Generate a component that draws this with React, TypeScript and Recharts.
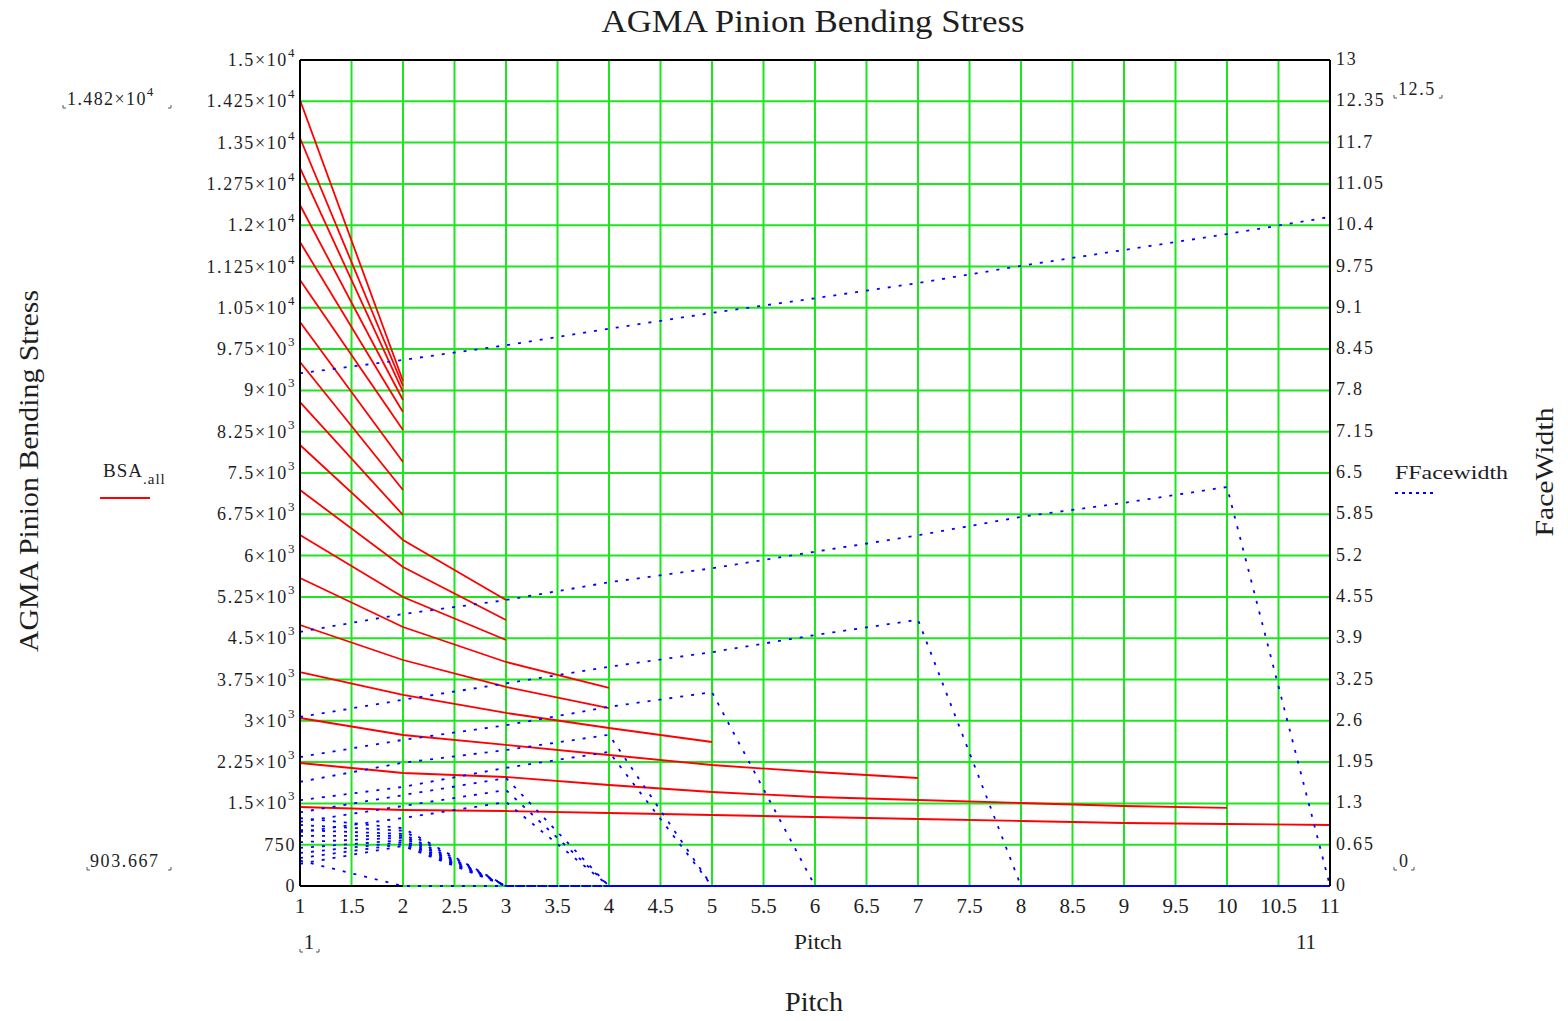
import type { ReactElement } from "react";
import {
  ComposedChart,
  Line,
  XAxis,
  YAxis,
  CartesianGrid,
  ReferenceLine,
} from "recharts";

const pitch = [1, 2, 3, 4, 5, 6, 7, 8, 9, 10, 11];

// BSA.all - bending stress at pitch 1, 2, 3 ... (each row stops at its last pitch)
const bsaAll: number[][] = [
  [14274, 9171],
  [13584, 9080],
  [13039, 8971],
  [12367, 8826],
  [11695, 8608],
  [11005, 8281],
  [10242, 7700],
  [9516, 7191],
  [8789, 6737],
  [8009, 6283, 5194],
  [7191, 5793, 4830],
  [6374, 5248, 4467],
  [5593, 4703, 4068, 3596],
  [4740, 4104, 3614, 3232],
  [3886, 3469, 3142, 2869, 2615],
  [3051, 2742, 2561, 2379, 2197, 2070, 1961],
  [2234, 2052, 1979, 1834, 1707, 1616, 1562, 1507, 1453, 1417],
  [1435, 1380, 1362, 1326, 1289, 1253, 1217, 1180, 1144, 1126, 1108],
];

// FFacewidth - face width at pitch 1..11, zero past the last pitch
const fFacewidth: number[][] = [
  [8.07, 8.28, 8.51, 8.77, 9.02, 9.25, 9.49, 9.76, 10.01, 10.26, 10.53],
  [4.0, 4.28, 4.5, 4.78, 5.0, 5.26, 5.52, 5.81, 6.03, 6.28, 0],
  [2.66, 2.93, 3.19, 3.45, 3.68, 3.95, 4.19, 0, 0, 0, 0],
  [2.03, 2.3, 2.53, 2.82, 3.05, 0, 0, 0, 0, 0, 0],
  [1.64, 1.94, 2.14, 2.38, 0, 0, 0, 0, 0, 0, 0],
  [1.35, 1.56, 1.86, 2.11, 0, 0, 0, 0, 0, 0, 0],
  [1.16, 1.43, 1.7, 0, 0, 0, 0, 0, 0, 0, 0],
  [1.01, 1.26, 1.51, 0, 0, 0, 0, 0, 0, 0, 0],
  [0.85, 1.07, 1.32, 0, 0, 0, 0, 0, 0, 0, 0],
  [1.07, 0.91, 0, 0, 0, 0, 0, 0, 0, 0, 0],
  [0.96, 0.87, 0, 0, 0, 0, 0, 0, 0, 0, 0],
  [0.88, 0.82, 0, 0, 0, 0, 0, 0, 0, 0, 0],
  [0.79, 0.79, 0, 0, 0, 0, 0, 0, 0, 0, 0],
  [0.69, 0.76, 0, 0, 0, 0, 0, 0, 0, 0, 0],
  [0.6, 0.72, 0, 0, 0, 0, 0, 0, 0, 0, 0],
  [0.52, 0.69, 0, 0, 0, 0, 0, 0, 0, 0, 0],
  [0.44, 0.66, 0, 0, 0, 0, 0, 0, 0, 0, 0],
  [0.35, 0.63, 0, 0, 0, 0, 0, 0, 0, 0, 0],
  [0.4, 0, 0, 0, 0, 0, 0, 0, 0, 0, 0],
];

const xTicks = [1, 1.5, 2, 2.5, 3, 3.5, 4, 4.5, 5, 5.5, 6, 6.5, 7, 7.5, 8, 8.5, 9, 9.5, 10, 10.5, 11];
const leftTicks = [
  0, 750, 1500, 2250, 3000, 3750, 4500, 5250, 6000, 6750, 7500, 8250, 9000, 9750, 10500, 11250,
  12000, 12750, 13500, 14250, 15000,
];
const leftTickLabels = [
  "0", "750", "1.5×10^3", "2.25×10^3", "3×10^3", "3.75×10^3", "4.5×10^3", "5.25×10^3", "6×10^3",
  "6.75×10^3", "7.5×10^3", "8.25×10^3", "9×10^3", "9.75×10^3", "1.05×10^4", "1.125×10^4",
  "1.2×10^4", "1.275×10^4", "1.35×10^4", "1.425×10^4", "1.5×10^4",
];
const rightTicks = [
  0, 0.65, 1.3, 1.95, 2.6, 3.25, 3.9, 4.55, 5.2, 5.85, 6.5, 7.15, 7.8, 8.45, 9.1, 9.75, 10.4, 11.05,
  11.7, 12.35, 13,
];

const serif = "'Liberation Serif', 'Times New Roman', serif";
const ink = "#1e1e1e";

const toPoints = (row: number[]) => row.map((y, i) => ({ x: pitch[i], y }));

function LeftTick(props: any): ReactElement {
  const { x, y, payload } = props;
  const idx = leftTicks.indexOf(payload.value);
  const [base, exp] = (leftTickLabels[idx] ?? String(payload.value)).split("^");
  return (
    <text x={x} y={y + 6} textAnchor="end" fontFamily={serif} fontSize={18} letterSpacing={1.6} fill={ink}>
      <tspan>{base}</tspan>
      {exp ? (
        <tspan dy={-9} fontSize={13}>
          {exp}
        </tspan>
      ) : null}
    </text>
  );
}

function RightTick(props: any): ReactElement {
  const { x, y, payload } = props;
  return (
    <text x={x} y={y + 5} textAnchor="start" fontFamily={serif} fontSize={18} letterSpacing={1.8} fill={ink}>
      {payload.value}
    </text>
  );
}

function BottomTick(props: any): ReactElement {
  const { x, y, payload } = props;
  return (
    <text x={x} y={y + 23} textAnchor="middle" fontFamily={serif} fontSize={21} fill={ink}>
      {payload.value}
    </text>
  );
}

// little Mathcad corner marks around the limit labels
function Corners({ x1, x2, y }: { x1: number; x2: number; y: number }): ReactElement {
  return (
    <g stroke="#555" strokeWidth={1} fill="none">
      <path d={`M${x1},${y - 3} L${x1},${y} L${x1 + 3},${y}`} />
      <path d={`M${x2 - 3},${y} L${x2},${y} L${x2},${y - 3}`} />
    </g>
  );
}

export default function App(): ReactElement {
  return (
    <div style={{ position: "absolute", left: 0, top: 0, width: 1568, height: 1021, background: "#fff" }}>
      <ComposedChart width={1568} height={1021} margin={{ top: 60, right: 138, bottom: 105, left: 200 }}>
        <CartesianGrid stroke="#1ee61e" strokeWidth={2} />
        <XAxis
          dataKey="x"
          type="number"
          domain={[1, 11]}
          ticks={xTicks}
          interval={0}
          height={30}
          tickSize={0}
          tickMargin={4}
          tickLine={false}
          axisLine={false}
          tick={(p: any) => <BottomTick {...p} />}
        />
        <YAxis
          domain={[0, 15000]}
          ticks={leftTicks}
          interval={0}
          width={100}
          tickSize={0}
          tickMargin={4}
          tickLine={false}
          axisLine={{ stroke: "#000", strokeWidth: 2 }}
          tick={(p: any) => <LeftTick {...p} />}
        />
        <YAxis
          yAxisId="right"
          orientation="right"
          domain={[0, 13]}
          ticks={rightTicks}
          interval={0}
          width={100}
          tickSize={0}
          tickMargin={6}
          tickLine={false}
          axisLine={{ stroke: "#000", strokeWidth: 2 }}
          tick={(p: any) => <RightTick {...p} />}
        />
        <ReferenceLine y={15000} stroke="#000" strokeWidth={2} />
        <ReferenceLine
          segment={[
            { x: 1, y: 0 },
            { x: 2, y: 0 },
          ]}
          stroke="#000"
          strokeWidth={2}
        />
        {bsaAll.map((row, i) => (
          <Line
            key={`bsa-${i}`}
            data={toPoints(row)}
            dataKey="y"
            type="linear"
            stroke="#ff0000"
            strokeWidth={1.8}
            dot={false}
            activeDot={false}
            isAnimationActive={false}
          />
        ))}
        {fFacewidth.map((row, i) => (
          <Line
            key={`ff-${i}`}
            yAxisId="right"
            data={toPoints(row)}
            dataKey="y"
            type="linear"
            stroke="#0000ff"
            strokeWidth={1.8}
            strokeDasharray="3 8"
            dot={false}
            activeDot={false}
            isAnimationActive={false}
          />
        ))}
      </ComposedChart>

      <svg
        width={1568}
        height={1021}
        style={{ position: "absolute", left: 0, top: 0, pointerEvents: "none" }}
        fontFamily={serif}
        fill={ink}
      >
        <text x={813} y={32} textAnchor="middle" fontSize={32} textLength={423} lengthAdjust="spacingAndGlyphs">
          AGMA Pinion Bending Stress
        </text>
        <text x={814} y={1011} textAnchor="middle" fontSize={27} textLength={58} lengthAdjust="spacingAndGlyphs">
          Pitch
        </text>
        <text x={818} y={949} textAnchor="middle" fontSize={22} textLength={48} lengthAdjust="spacingAndGlyphs">
          Pitch
        </text>
        <text x={1306} y={949} textAnchor="middle" fontSize={21}>
          11
        </text>
        <text x={309} y={949} textAnchor="middle" fontSize={21}>
          1
        </text>
        <Corners x1={300} x2={319} y={952} />

        <text
          transform="translate(38,471) rotate(-90)"
          textAnchor="middle"
          fontSize={27}
          textLength={362}
          lengthAdjust="spacingAndGlyphs"
        >
          AGMA Pinion Bending Stress
        </text>
        <text
          transform="translate(1553,472) rotate(-90)"
          textAnchor="middle"
          fontSize={26}
          textLength={129}
          lengthAdjust="spacingAndGlyphs"
        >
          FaceWidth
        </text>

        <text x={103} y={477} fontSize={19} letterSpacing={1}>
          <tspan>BSA</tspan>
          <tspan dy={7} fontSize={15}>
            .all
          </tspan>
        </text>
        <line x1={100} x2={150} y1={498} y2={498} stroke="#ff0000" strokeWidth={2} />

        <text x={1395} y={479} fontSize={19} textLength={113} lengthAdjust="spacingAndGlyphs">
          FFacewidth
        </text>
        <line x1={1395} x2={1433} y1={493} y2={493} stroke="#0000ff" strokeWidth={2} strokeDasharray="3 4" />

        <text x={67} y={105} fontSize={18} letterSpacing={1.4}>
          <tspan>1.482×10</tspan>
          <tspan dy={-9} fontSize={13}>
            4
          </tspan>
        </text>
        <Corners x1={63} x2={171} y={108} />
        <text x={90} y={867} fontSize={18} letterSpacing={1.6}>
          903.667
        </text>
        <Corners x1={87} x2={171} y={870} />
        <text x={1398} y={95} fontSize={18} letterSpacing={1.6}>
          12.5
        </text>
        <Corners x1={1394} x2={1442} y={98} />
        <text x={1399} y={867} fontSize={18}>
          0
        </text>
        <Corners x1={1394} x2={1414} y={870} />
      </svg>
    </div>
  );
}
